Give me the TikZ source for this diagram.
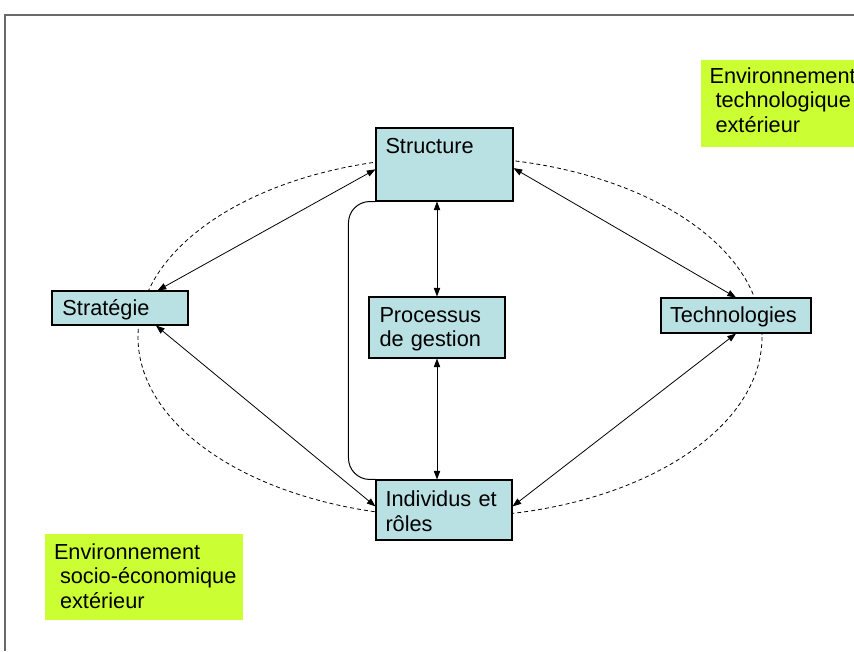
\documentclass[tikz,border=0pt]{standalone}
\usepackage{fontspec}
\setmainfont{Liberation Sans}
\usetikzlibrary{arrows.meta,fit,calc}
\definecolor{boxcyan}{RGB}{185,224,227}
\definecolor{envlime}{RGB}{204,255,51}
\definecolor{framegray}{RGB}{105,105,105}
\tikzset{every picture/.style={line width=0.75pt}}
\tikzset{
  box/.style={draw=black, fill=boxcyan, inner sep=0pt, line width=0.8pt},
  envbox/.style={fill=envlime, inner sep=0pt},
  txt/.style={anchor=base west, inner sep=0pt, text width=150pt, align=left,
    font=\fontsize{16.3}{18.6}\selectfont},
  link/.style={{Triangle[length=6.5pt,width=4.8pt]}-{Triangle[length=6.5pt,width=4.8pt]}, line width=0.6pt},
}

\begin{document}
\begin{tikzpicture}[x=0.75pt,y=0.75pt,yscale=-1,xscale=1]
    \useasboundingbox (0,0) rectangle (854,651);
    % frame
    \draw [framegray, line width=1.2pt]  (854,15) -- (5,15) -- (5,651) ;
    % dashed ellipse
    \draw [dash pattern={on 3pt off 2.25pt}, line width=0.6pt] (450,337) ellipse [x radius=312, y radius=180] ;
    % Environment boxes
    \node [envbox, fit={(701,60) (854,147)}] (envtech) {};
    \node [txt] (envtechtext) at (709,83) {Environnement\\\hspace*{0.278em}technologique\\\hspace*{0.278em}ext\'erieur};
    \node [envbox, fit={(45,534) (243,620)}] (envsocio) {};
    \node [txt] (envsociotext) at (53.5,559) {Environnement\\\hspace*{0.278em}socio-\'economique\\\hspace*{0.278em}ext\'erieur};
    % Boxes
    \node [box, fit={(376,128) (513,201)}] (structure) {};
    \node [txt] (structuretext) at (385,153) {Structure};
    \node [box, fit={(52,291) (188,325)}] (strategie) {};
    \node [txt] (strategietext) at (62,315) {Strat\'egie};
    \node [box, fit={(661,298) (811,333)}] (technologies) {};
    \node [txt] (technologiestext) at (669.5,322.5) {Technologies};
    \node [box, fit={(369,297) (505,358)}] (processus) {};
    \node [txt] (processustext) at (379,322) {Processus\\de gestion};
    \node [box, fit={(376,480) (512,540)}] (individus) {};
    \node [txt] (individustext) at (385,506.5) {Individus et\\r\^oles};
    % Connection
    \draw [rounded corners=16pt]  (structure.south west) -- ++(-27,0) |- (individus.north west) ;
    % Connection
    \draw [link]  (structure.184) -- (strategie.25) ;
    % Connection
    \draw [link]  (structure.357) -- (technologies.north) ;
    % Connection
    \draw [link]  (structure.south -| processus.north) -- (processus.north) ;
    % Connection
    \draw [link]  (processus.south) -- (individus.north -| processus.south) ;
    % Connection
    \draw [link]  (strategie.334) -- (individus.177) ;
    % Connection
    \draw [link]  (technologies.south) -- (individus.3) ;

\end{tikzpicture}
\end{document}
